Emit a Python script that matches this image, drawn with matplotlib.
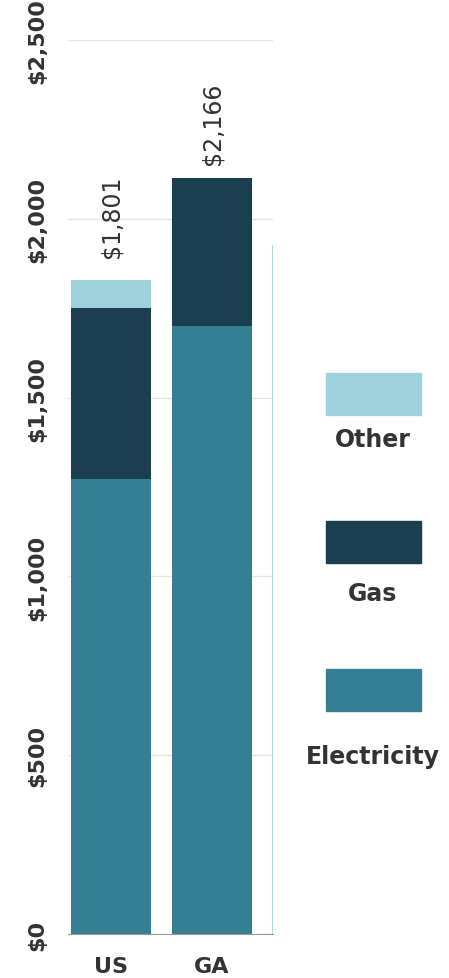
import matplotlib.pyplot as plt
from matplotlib.patches import Rectangle

# data
regions = ['US', 'GA']
electricity = [1272, 1700]
gas = [479, 414]
other = [78, 0]
totals = ['$1,801', '$2,166']
yticks = [0, 500, 1000, 1500, 2000, 2500]
ytick_labels = ['$0', '$500', '$1,000', '$1,500', '$2,000', '$2,500']
legend_names = ['Other', 'Gas', 'Electricity']

c_elec = '#347f91'
c_gas = '#1b3e50'
c_other = '#9dd2dc'
txt = '#333333'

plt.rcParams['font.family'] = 'DejaVu Sans'

fig = plt.figure(figsize=(4.49, 9.79), dpi=100)
ax = fig.add_axes([68/449, 1-935/979, 205/449, 894/979])

x = list(range(len(regions)))
w = 0.8
ax.bar(x, electricity, w, color=c_elec, zorder=2)
ax.bar(x, gas, w, bottom=electricity, color=c_gas, zorder=2)
bot2 = [e + g for e, g in zip(electricity, gas)]
ax.bar(x, other, w, bottom=bot2, color=c_other, zorder=2)

tops = [b + o for b, o in zip(bot2, other)]
offs = [64, 39]
for xi, t, lab, o in zip(x, tops, totals, offs):
    ax.text(xi, t + o, lab, rotation=90, ha='center', va='bottom',
            fontsize=17, color=txt)

ax.set_xlim(-0.426, 1.604)
ax.set_ylim(0, 2500)
ax.set_yticks(yticks)
ax.set_yticklabels(ytick_labels, rotation=90, va='center', fontsize=16,
                   fontweight='bold', color=txt)
ax.set_xticks(x)
ax.set_xticklabels(regions, fontsize=16, fontweight='bold', color=txt)
ax.tick_params(length=0)
ax.tick_params(axis='x', pad=16)
ax.tick_params(axis='y', pad=15)
ax.grid(axis='y', color='#e6e6e6', lw=1, zorder=0)
ax.set_axisbelow(True)
for s in ['top', 'right', 'left']:
    ax.spines[s].set_visible(False)
ax.spines['bottom'].set_color('#999999')
ax.spines['bottom'].set_zorder(3)

# clipped edge of next bar
ax.axvline(1.6, ymin=0, ymax=0.77, color='#a8d8e0', lw=1.5, zorder=2)

# legend, patches stacked with labels underneath
leg_colors = [c_other, c_gas, c_elec]
patch_tops = [374, 522, 670]
label_y = [440, 594, 757]
for name, col, pt, ly in zip(legend_names, leg_colors, patch_tops, label_y):
    fig.add_artist(Rectangle((326/449, 1-(pt+42)/979), 95/449, 42/979,
                             transform=fig.transFigure, color=col))
    fig.text(373/449, 1-ly/979, name, ha='center', va='center',
             fontsize=17, fontweight='bold', color=txt)

fig.savefig('out.png', dpi=100)
